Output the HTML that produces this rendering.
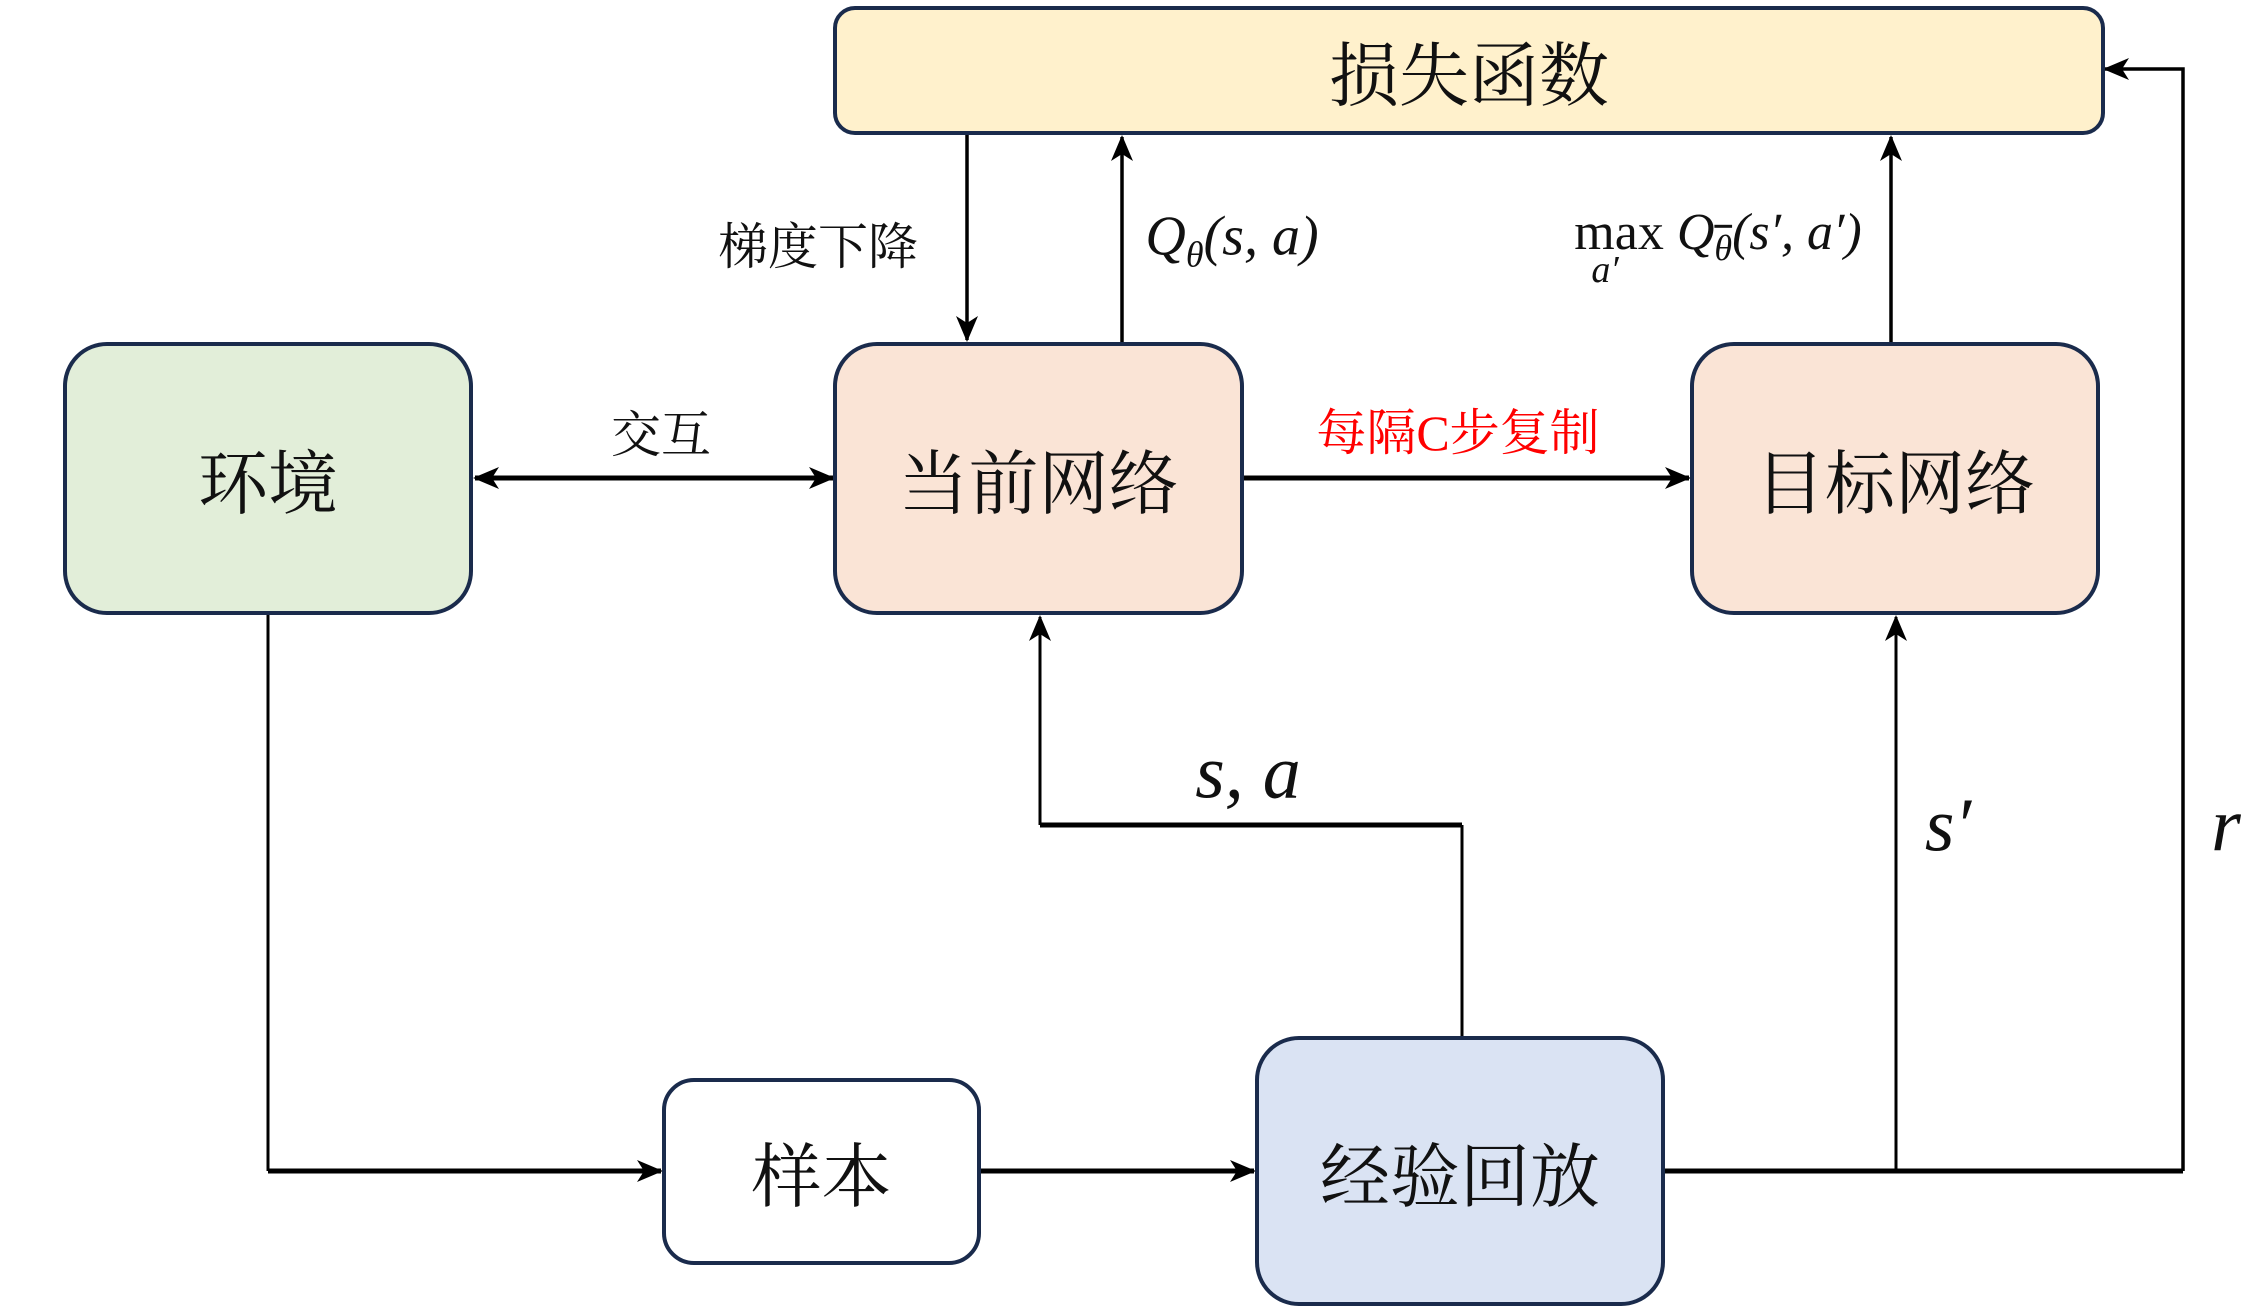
<!DOCTYPE html>
<html><head><meta charset="utf-8"><style>
body{margin:0;background:#fff;width:2259px;height:1306px;overflow:hidden;position:relative;font-family:"Liberation Serif","Noto Serif CJK SC",serif;}
.b{position:absolute;box-sizing:border-box;border:4.5px solid #1a2b4c;border-radius:44px;display:flex;align-items:center;justify-content:center;font-size:70px;color:#111;}
.t{position:absolute;transform:translate(-50%,-50%);white-space:nowrap;color:#111;}
.m{font-style:italic;font-family:"Liberation Serif",serif;}
svg{position:absolute;left:0;top:0;}
</style></head><body>
<svg width="2259" height="1306">
<defs>
<marker id="A" markerWidth="26" markerHeight="26" refX="24" refY="13" orient="auto-start-reverse" markerUnits="userSpaceOnUse"><path d="M0,2 L26,13 L0,24 L7,13 Z" fill="#000"/></marker>
</defs>
<g stroke="#000" fill="none" stroke-width="3.5">
<line x1="967" y1="135" x2="967" y2="340" marker-end="url(#A)"/>
<line x1="1122" y1="343" x2="1122" y2="137" marker-end="url(#A)"/>
<line x1="1891" y1="343" x2="1891" y2="137" marker-end="url(#A)"/>
<line x1="475" y1="478" x2="833" y2="478" stroke-width="5" marker-start="url(#A)" marker-end="url(#A)"/>
<line x1="1243" y1="478" x2="1689" y2="478" stroke-width="5" marker-end="url(#A)"/>
<line x1="268" y1="614" x2="268" y2="1171" stroke-width="3"/>
<line x1="268" y1="1171" x2="661" y2="1171" stroke-width="5" marker-end="url(#A)"/>
<line x1="980" y1="1171" x2="1254" y2="1171" stroke-width="5" marker-end="url(#A)"/>
<line x1="1664" y1="1171" x2="2183" y2="1171" stroke-width="5"/>
<line x1="1896" y1="1171" x2="1896" y2="617" stroke-width="3" marker-end="url(#A)"/>
<polyline points="2183,1171 2183,69 2105,69" stroke-width="3.5" marker-end="url(#A)"/>
<line x1="1462" y1="1036" x2="1462" y2="825" stroke-width="3"/>
<line x1="1462" y1="825" x2="1040" y2="825" stroke-width="5"/>
<line x1="1040" y1="825" x2="1040" y2="617" stroke-width="3" marker-end="url(#A)"/>
</g>
</svg>
<div class="b" style="left:833px;top:6px;width:1272px;height:129px;background:#fff1cc;border-radius:22px;">损失函数</div>
<div class="b" style="left:63px;top:342px;width:410px;height:273px;background:#e2eed9;">环境</div>
<div class="b" style="left:833px;top:342px;width:411px;height:273px;background:#fae4d6;">当前网络</div>
<div class="b" style="left:1690px;top:342px;width:410px;height:273px;background:#fae4d6;">目标网络</div>
<div class="b" style="left:662px;top:1078px;width:319px;height:187px;background:#fff;border-radius:32px;">样本</div>
<div class="b" style="left:1255px;top:1036px;width:410px;height:270px;background:#dae3f3;">经验回放</div>
<div class="t" style="left:818px;top:243px;font-size:50px;">梯度下降</div>
<div class="t" style="left:661px;top:431px;font-size:50px;">交互</div>
<div class="t" style="left:1458px;top:429px;font-size:50px;color:#f00;">每隔C步复制</div>
<div class="t" style="left:1232px;top:240px;font-size:56px;"><span class="m">Q<sub style="font-size:36px">θ</sub>(s, a)</span></div>
<div class="t" style="left:1718px;top:236px;font-size:52px;">max <span class="m">Q<sub style="font-size:36px;text-decoration:overline">θ</sub>(s′, a′)</span></div>
<div class="t m" style="left:1605px;top:270px;font-size:38px;">a′</div>
<div class="t m" style="left:1248px;top:773px;font-size:76px;">s, a</div>
<div class="t m" style="left:1948px;top:826px;font-size:76px;">s′</div>
<div class="t m" style="left:2226px;top:826px;font-size:76px;">r</div>
</body></html>
